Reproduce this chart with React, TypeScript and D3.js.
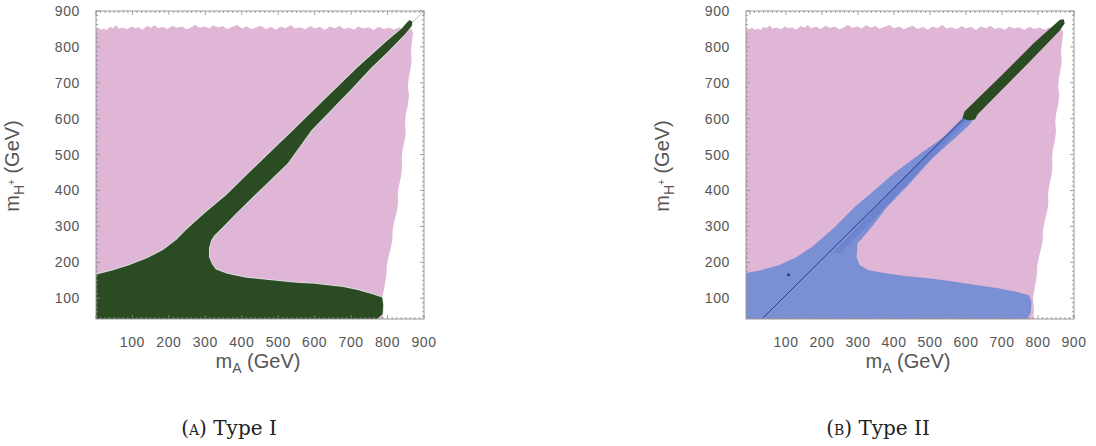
import React from "react";
import * as d3 from "d3";

type P = [number, number];

const xTicks = [100, 200, 300, 400, 500, 600, 700, 800, 900];
const yTicks = [100, 200, 300, 400, 500, 600, 700, 800, 900];
const yDomain: P = [42, 900];

// Allowed (pink) region: jagged top edge and right edge
const pinkTop: P[] = [
  [0, 846], [6, 853], [14, 848], [22, 851], [30, 847], [38, 856], [46, 852], [55, 860],
  [62, 851], [74, 854], [86, 849], [97, 857], [108, 852], [116, 855], [128, 848], [140, 858],
  [152, 853], [160, 861], [170, 852], [184, 856], [196, 850], [210, 859], [222, 853],
  [236, 857], [248, 849], [262, 855], [272, 862], [284, 853], [298, 857], [310, 851],
  [322, 860], [336, 854], [348, 858], [360, 850], [374, 856], [388, 861], [400, 852],
  [414, 857], [428, 849], [440, 855], [452, 859], [466, 850], [480, 856], [494, 848],
  [506, 857], [520, 852], [534, 861], [546, 851], [560, 855], [574, 849], [588, 858],
  [600, 851], [614, 856], [628, 847], [642, 857], [656, 852], [668, 859], [680, 850],
  [694, 854], [708, 848], [720, 857], [734, 851], [748, 855], [762, 847], [776, 856],
  [790, 850], [804, 854], [818, 848], [832, 855], [846, 847], [858, 853], [866, 849],
];
const pinkRight: P[] = [
  [870, 840], [864, 790], [866, 760], [863, 740], [858, 712], [856, 690], [859, 665],
  [856, 640], [850, 612], [848, 590], [850, 565], [847, 540], [841, 512], [839, 490],
  [840, 465], [837, 440], [831, 412], [828, 390], [829, 365], [825, 340], [818, 312],
  [814, 290], [813, 262], [809, 240], [802, 212], [798, 190], [797, 165], [793, 140],
  [789, 118], [786, 100], [789, 70], [787, 42],
];

// Type I: green region
const greenTypeI: P[] = [
  [0, 42], [0, 165], [45, 177], [91, 192], [140, 211], [184, 234], [220, 262], [247, 290],
  [275, 316], [302, 340], [357, 387], [447, 476], [541, 568], [630, 656], [719, 744],
  [800, 818], [840, 852], [852, 866], [860, 874], [868, 870], [866, 858], [850, 838],
  [800, 786], [757, 744], [700, 682], [637, 616], [591, 568], [526, 476], [430, 382],
  [380, 332], [348, 298], [325, 275], [316, 262], [310, 240], [310, 215], [318, 195],
  [329, 180], [360, 168], [412, 157], [480, 150], [549, 143], [600, 140], [634, 136],
  [678, 131], [720, 122], [760, 110], [785, 102], [788, 80], [786, 55], [772, 42],
];
const diagTypeI: P[] = [[855, 855], [900, 900]];

// Type II: blue region, darker core band, green upper wedge, thin line, dot
const blueTypeII: P[] = [
  [-11, 42], [-11, 170], [30, 178], [80, 192], [130, 215], [173, 243], [236, 298],
  [291, 354], [345, 400], [401, 449], [470, 500], [538, 549], [580, 590], [600, 606],
  [625, 606], [612, 585], [573, 549], [540, 520], [502, 485], [440, 415], [381, 354],
  [338, 298], [310, 265], [299, 254], [296, 215], [305, 192], [330, 178], [373, 170],
  [430, 162], [491, 156], [560, 147], [628, 137], [690, 128], [740, 118], [775, 108],
  [782, 90], [780, 60], [770, 42],
];
const blueCoreTypeII: P[] = [
  [230, 225], [300, 300], [400, 410], [500, 512], [590, 602], [610, 602], [520, 505],
  [420, 400], [320, 295], [250, 225],
];
const greenTypeII: P[] = [
  [590, 602], [596, 620], [700, 722], [790, 812], [850, 866], [862, 876], [872, 876],
  [874, 865], [860, 845], [770, 752], [660, 640], [632, 612], [625, 598], [605, 595],
];
const lineTypeII: P[] = [[33, 42], [598, 604]];
const dotTypeII: P[] = [[107, 165]];

const PINK = "#e0b6d6";
const GREEN = "#2b4b23";
const BLUE = "#7b8fd4";

const pinkPoly = (x0: number): P[] => [[x0, 42], ...pinkTop.map((d, i) => (i === 0 ? [x0, d[1]] as P : d)), ...pinkRight];

function Panel({ id, xr, xd, kind }: { id: string; xr: P; xd: P; kind: "I" | "II" }) {
  const x = d3.scaleLinear().domain(xd).range(xr);
  const y = d3.scaleLinear().domain(yDomain).range([319, 11]);
  const poly = d3.line<P>().x((d) => x(d[0])).y((d) => y(d[1])).curve(d3.curveLinearClosed);
  const line = d3.line<P>().x((d) => x(d[0])).y((d) => y(d[1]));
  const [L, R] = xr;
  const T = 11, B = 319;
  const minorX = d3.range(0, 900.01, 12.5).filter((v) => v >= xd[0]);
  const minorY = d3.range(50, 900.01, 12.5);
  const tickCol = "#8a8a8a";
  return (
    <g>
      <defs>
        <clipPath id={id}>
          <rect x={L} y={T} width={R - L} height={B - T} />
        </clipPath>
      </defs>
      <g clipPath={`url(#${id})`}>
        <path d={poly(pinkPoly(xd[0])) || ""} fill={PINK} />
        {kind === "I" && (
          <>
            <path d={line(diagTypeI) || ""} stroke="#aaa" strokeWidth={0.8} fill="none" />
            <path d={poly(greenTypeI) || ""} fill={GREEN} stroke="#d6ece6" strokeWidth={2} strokeOpacity={0.7} />
            <path d={poly(greenTypeI) || ""} fill={GREEN} />
          </>
        )}
        {kind === "II" && (
          <>
            <path d={poly(blueTypeII.map((d) => (d[0] < 0 ? [xd[0], d[1]] as P : d))) || ""} fill={BLUE} />
            <path d={poly(blueCoreTypeII) || ""} fill="#6b7fcc" opacity={0.7} />
            <path d={line(lineTypeII) || ""} stroke="#2c3d8c" strokeWidth={1} fill="none" />
            <path d={poly(greenTypeII) || ""} fill={GREEN} />
            {dotTypeII.map((d, i) => (
              <circle key={i} cx={x(d[0])} cy={y(d[1])} r={1.6} fill="#2c3d8c" />
            ))}
          </>
        )}
      </g>
      <rect x={L} y={T} width={R - L} height={B - T} fill="none" stroke="#9a9a9a" strokeWidth={1} />
      {minorX.map((v) => (
        <g key={"mx" + v}>
          <line x1={x(v)} x2={x(v)} y1={B} y2={B - (v % 100 === 0 ? 4 : 2)} stroke={tickCol} strokeWidth={0.8} />
          <line x1={x(v)} x2={x(v)} y1={T} y2={T + (v % 100 === 0 ? 4 : 2)} stroke={tickCol} strokeWidth={0.8} />
        </g>
      ))}
      {minorY.map((v) => (
        <g key={"my" + v}>
          <line x1={L} x2={L + (v % 100 === 0 ? 4 : 2)} y1={y(v)} y2={y(v)} stroke={tickCol} strokeWidth={0.8} />
          <line x1={R} x2={R - (v % 100 === 0 ? 4 : 2)} y1={y(v)} y2={y(v)} stroke={tickCol} strokeWidth={0.8} />
        </g>
      ))}
      {xTicks.map((v) => (
        <text key={"xt" + v} x={x(v)} y={342} textAnchor="middle" dominantBaseline="central"
          fontFamily="Liberation Sans, Arial, sans-serif" fontSize={14} letterSpacing={0.6} fill="#555">
          {v}
        </text>
      ))}
      {yTicks.map((v) => (
        <text key={"yt" + v} x={L - 16} y={y(v)} textAnchor="end" dominantBaseline="central"
          fontFamily="Liberation Sans, Arial, sans-serif" fontSize={14} letterSpacing={0.6} fill="#555">
          {v}
        </text>
      ))}
      <text x={(L + R) / 2 - 2} y={368} textAnchor="middle" fontFamily="Liberation Sans, Arial, sans-serif"
        fontSize={20} fill="#555">
        m<tspan dy={5} fontSize={14}>A</tspan>
        <tspan dy={-5}> (GeV)</tspan>
      </text>
      <text transform={`translate(${L - 77},166) rotate(-90)`} textAnchor="middle"
        fontFamily="Liberation Sans, Arial, sans-serif" fontSize={20} fill="#555">
        m<tspan dy={5} fontSize={14}>H</tspan>
        <tspan dy={-9} fontSize={10}>+</tspan>
        <tspan dy={4}> (GeV)</tspan>
      </text>
    </g>
  );
}

export default function App() {
  return (
    <svg width={1096} height={446} style={{ position: "absolute", left: 0, top: 0, background: "#fff" }}>
      <rect width={1096} height={446} fill="#fff" />
      <Panel id="clipA" xr={[96, 424]} xd={[0, 900]} kind="I" />
      <Panel id="clipB" xr={[746, 1074]} xd={[-11, 900]} kind="II" />
      <text x={229} y={435} textAnchor="middle" fontFamily="DejaVu Serif, serif" fontSize={20} fill="#222">
        <tspan style={{ fontVariant: "small-caps" }}>(a)</tspan> Type I
      </text>
      <text x={878} y={435} textAnchor="middle" fontFamily="DejaVu Serif, serif" fontSize={20} fill="#222">
        <tspan style={{ fontVariant: "small-caps" }}>(b)</tspan> Type II
      </text>
    </svg>
  );
}
